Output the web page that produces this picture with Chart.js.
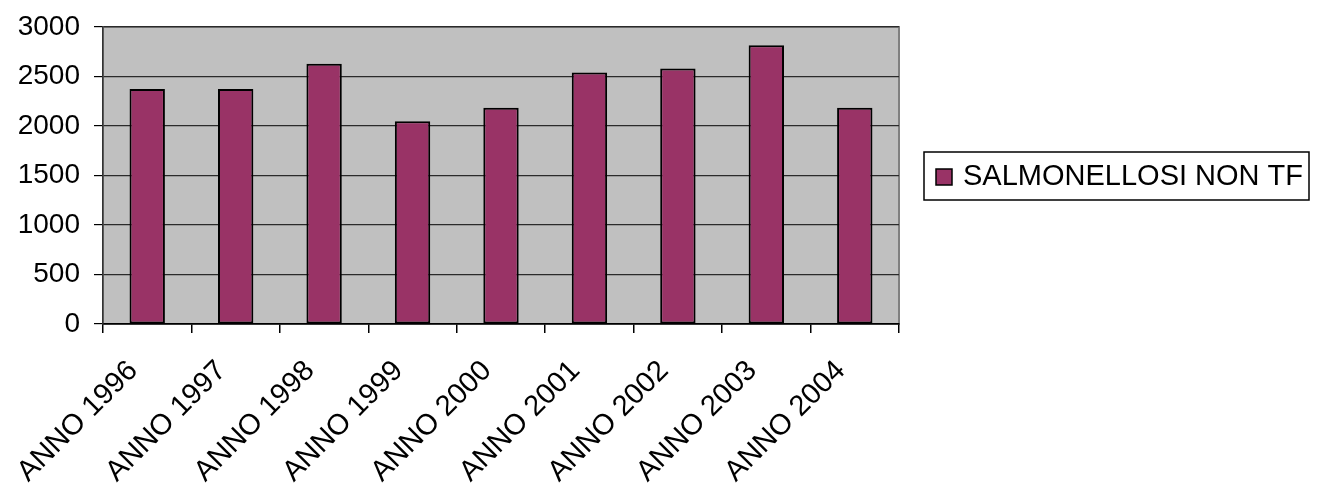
<!DOCTYPE html>
<html>
<head>
<meta charset="utf-8">
<script src="https://cdn.jsdelivr.net/npm/chart.js@4/dist/chart.umd.min.js"></script>
<style>
  html, body { margin: 0; padding: 0; background: #fff; }
  #wrap { width: 1318px; height: 489px; }
</style>
</head>
<body>
<div id="wrap"><canvas id="chart" width="1318" height="489"></canvas></div>
<script>
// dati
const anni = ['ANNO 1996', 'ANNO 1997', 'ANNO 1998', 'ANNO 1999', 'ANNO 2000', 'ANNO 2001', 'ANNO 2002', 'ANNO 2003', 'ANNO 2004'];
const casi = [2375, 2375, 2630, 2047, 2185, 2540, 2580, 2815, 2185];
const serieNome = 'SALMONELLOSI NON TF';
const yTicks = [0, 500, 1000, 1500, 2000, 2500, 3000];

const FONT = "'Liberation Sans', Arial, sans-serif";
const BAR_COLOR = '#993366';

// sfondo grigio dell'area del grafico + cornice
const plotArea = {
    id: 'plotArea',
    beforeDraw(chart) {
        const { ctx, chartArea: a } = chart;
        ctx.save();
        ctx.fillStyle = '#c0c0c0';
        ctx.fillRect(a.left, a.top, a.right - a.left, a.bottom - a.top);
        ctx.strokeStyle = '#808080';
        ctx.lineWidth = 2;
        ctx.strokeRect(a.left, a.top, a.right - a.left, a.bottom - a.top);
        ctx.restore();
    }
};

// legenda con riquadro, stile Excel
const boxLegend = {
    id: 'boxLegend',
    afterDraw(chart) {
        const { ctx } = chart;
        const ds = chart.data.datasets[0];
        const x = 924, y = 152, w = 385, h = 48;
        ctx.save();
        ctx.fillStyle = '#fff';
        ctx.fillRect(x, y, w, h);
        ctx.strokeStyle = '#000';
        ctx.lineWidth = 1.5;
        ctx.strokeRect(x, y, w, h);
        ctx.fillStyle = ds.backgroundColor;
        ctx.fillRect(x + 12, y + 17, 16, 16);
        ctx.strokeRect(x + 12, y + 17, 16, 16);
        ctx.fillStyle = '#000';
        ctx.font = '29px ' + FONT;
        ctx.textBaseline = 'middle';
        ctx.fillText(ds.label, x + 39, y + h / 2 + 1);
        ctx.restore();
    }
};

new Chart(document.getElementById('chart'), {
    type: 'bar',
    data: {
        labels: anni,
        datasets: [{
            label: serieNome,
            data: casi,
            backgroundColor: BAR_COLOR,
            borderColor: '#000',
            borderWidth: 2,
            borderSkipped: false,
            barPercentage: 0.4,
            categoryPercentage: 1.0
        }]
    },
    options: {
        responsive: false,
        animation: false,
        devicePixelRatio: 1,
        layout: { padding: { left: 0, top: 27, right: 419, bottom: 0 } },
        plugins: {
            legend: { display: false },
            tooltip: { enabled: false }
        },
        scales: {
            x: {
                grid: {
                    offset: true,
                    drawOnChartArea: false,
                    drawTicks: true,
                    tickLength: 9,
                    color: '#000',
                    lineWidth: 1.5
                },
                border: { color: '#000', width: 1.5 },
                ticks: {
                    color: '#000',
                    font: { family: FONT, size: 29 },
                    minRotation: 45,
                    maxRotation: 45,
                    padding: 21,
                    labelOffset: -14,
                    autoSkip: false
                },
                afterFit(scale) { scale.height = 165; }
            },
            y: {
                min: 0,
                max: 3000,
                afterBuildTicks(scale) { scale.ticks = yTicks.map(v => ({ value: v })); },
                grid: {
                    color: '#2a2a2a',
                    lineWidth: 1.2,
                    drawTicks: true,
                    tickLength: 9,
                    tickColor: '#000'
                },
                border: { color: '#333', width: 1.5 },
                ticks: {
                    color: '#000',
                    font: { family: FONT, size: 28 },
                    padding: 14,
                    callback: v => String(v)
                },
                afterFit(scale) {
                    scale.width = 103;
                    scale.paddingTop = 0;
                    scale.paddingBottom = 0;
                }
            }
        }
    },
    plugins: [plotArea, boxLegend]
});
</script>
</body>
</html>
